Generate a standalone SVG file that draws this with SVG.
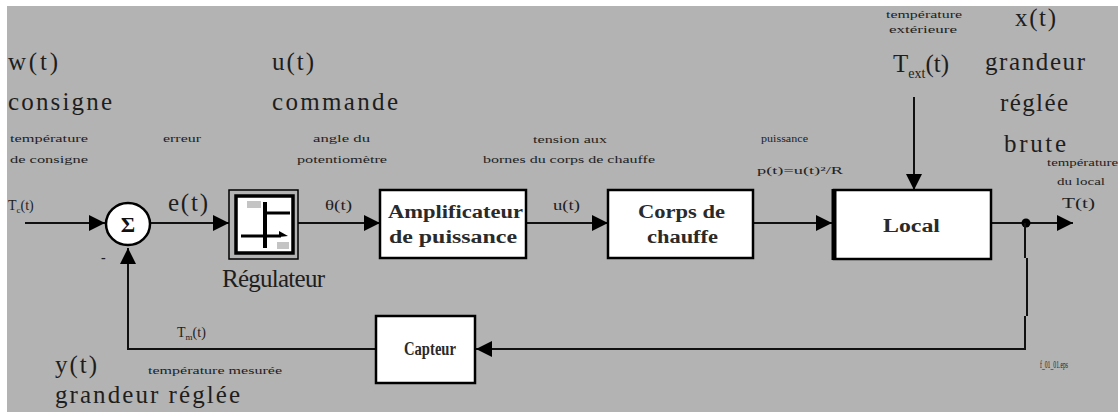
<svg xmlns="http://www.w3.org/2000/svg" width="1118" height="412" viewBox="0 0 1118 412">
  <style>
    .big { font-family: "Liberation Serif", "Times New Roman", serif; font-size: 25px; fill: #1e1e1e; }
    .mid { font-family: "Liberation Serif", "Times New Roman", serif; font-size: 14px; fill: #1e1e1e; }
    .sm { font-family: "Liberation Serif", "Times New Roman", serif; font-size: 11px; fill: #222; }
    .blk { font-family: "Liberation Serif", "Times New Roman", serif; font-size: 18px; font-weight: bold; fill: #2a2a2a; }
    .box { fill: #ffffff; stroke: #000; stroke-width: 2.5; }
    .wire { fill: none; stroke: #111; stroke-width: 2; }
  </style>
  <defs>
    <marker id="arr" viewBox="0 0 10 10" refX="10" refY="5" markerWidth="16" markerHeight="16" markerUnits="userSpaceOnUse" orient="auto">
      <path d="M0,0 L10,5 L0,10 Z" fill="#000"/>
    </marker>
  </defs>

  <!-- page -->
  <rect x="0" y="0" width="1118" height="412" fill="#ffffff"/>
  <rect x="7" y="6" width="1111" height="406" fill="#b3b3b3"/>

  <!-- connectors -->
  <g id="connectors">
    <line class="wire" x1="25" y1="223" x2="105" y2="223" marker-end="url(#arr)"/>
    <line class="wire" x1="150" y1="223" x2="229" y2="223" marker-end="url(#arr)"/>
    <line class="wire" x1="298" y1="223" x2="380" y2="223" marker-end="url(#arr)"/>
    <line class="wire" x1="526" y1="223" x2="608" y2="223" marker-end="url(#arr)"/>
    <line class="wire" x1="753" y1="223" x2="832" y2="223" marker-end="url(#arr)"/>
    <line class="wire" x1="914" y1="97" x2="914" y2="190" marker-end="url(#arr)"/>
    <line class="wire" x1="991" y1="223" x2="1073" y2="223" marker-end="url(#arr)"/>
    <circle cx="1026" cy="223" r="4.5" fill="#000"/>
    <path class="wire" d="M1025,223 V258 M1027,258 V316 M1025,316 V349" stroke-width="3"/>
    <line class="wire" x1="1026" y1="349" x2="476" y2="349" marker-end="url(#arr)"/>
    <path class="wire" d="M376,349 H128 V248" marker-end="url(#arr)"/>
  </g>

  <!-- summing junction -->
  <g id="sum">
    <ellipse cx="128" cy="224" rx="22" ry="21" fill="#fff" stroke="#000" stroke-width="2.5"/>
    <text x="128" y="232" text-anchor="middle" font-family="Liberation Serif, serif" font-size="22" font-weight="bold" fill="#111">Σ</text>
    <text x="101" y="262" class="mid" font-weight="bold">-</text>
  </g>

  <!-- controller -->
  <g id="regulateur">
    <rect x="229" y="190" width="69" height="69" fill="#b3b3b3" stroke="#000" stroke-width="1.5"/>
    <rect x="236" y="196" width="57" height="57" fill="#fff" stroke="#000" stroke-width="3.5"/>
    <line x1="265" y1="202" x2="265" y2="248" stroke="#000" stroke-width="4"/>
    <line x1="265" y1="213" x2="290" y2="213" stroke="#000" stroke-width="3"/>
    <line x1="241" y1="236" x2="281" y2="236" stroke="#000" stroke-width="3"/>
    <path d="M279,231 L288,236 L279,237 Z" fill="#000"/>
    <rect x="247" y="201" width="14" height="7" fill="#c4c4c4"/>
    <rect x="277" y="242" width="12" height="7" fill="#c4c4c4"/>
    <text x="222" y="287" class="big" font-size="23" textLength="103" lengthAdjust="spacing">Régulateur</text>
  </g>

  <g id="amplificateur">
    <rect class="box" x="380" y="190" width="146" height="68"/>
    <text x="388" y="218" class="blk" textLength="135" lengthAdjust="spacingAndGlyphs">Amplificateur</text>
    <text x="389" y="243" class="blk" textLength="128" lengthAdjust="spacingAndGlyphs">de puissance</text>
  </g>

  <g id="corps">
    <rect class="box" x="608" y="190" width="145" height="68"/>
    <text x="638" y="218" class="blk" textLength="87" lengthAdjust="spacingAndGlyphs">Corps de</text>
    <text x="647" y="243" class="blk" textLength="71" lengthAdjust="spacingAndGlyphs">chauffe</text>
  </g>

  <g id="local">
    <rect class="box" x="834" y="190" width="157" height="69"/>
    <line x1="834" y1="189" x2="834" y2="260" stroke="#000" stroke-width="5"/>
    <text x="883" y="232" class="blk" textLength="57" lengthAdjust="spacingAndGlyphs">Local</text>
  </g>

  <g id="capteur">
    <rect class="box" x="376" y="316" width="99" height="67"/>
    <text x="404" y="355" class="blk" textLength="52" lengthAdjust="spacingAndGlyphs">Capteur</text>
  </g>

  <!-- signal names -->
  <g id="labels">
    <text x="8" y="70" class="big" textLength="50" lengthAdjust="spacing">w(t)</text>
    <text x="8" y="110" class="big" textLength="104" lengthAdjust="spacing">consigne</text>
    <text x="10" y="142" class="sm" textLength="78" lengthAdjust="spacingAndGlyphs">température</text>
    <text x="10" y="163" class="sm" textLength="78" lengthAdjust="spacingAndGlyphs">de consigne</text>
    <text x="163" y="142" class="sm" textLength="38" lengthAdjust="spacingAndGlyphs">erreur</text>

    <text x="272" y="70" class="big" textLength="42" lengthAdjust="spacing">u(t)</text>
    <text x="272" y="110" class="big" textLength="126" lengthAdjust="spacing">commande</text>
    <text x="313" y="142" class="sm" textLength="57" lengthAdjust="spacingAndGlyphs">angle du</text>
    <text x="297" y="163" class="sm" textLength="90" lengthAdjust="spacingAndGlyphs">potentiomètre</text>

    <text x="533" y="143" class="sm" textLength="74" lengthAdjust="spacingAndGlyphs">tension aux</text>
    <text x="483" y="163" class="sm" textLength="172" lengthAdjust="spacingAndGlyphs">bornes du corps de chauffe</text>

    <text x="761" y="142" class="sm" textLength="47" lengthAdjust="spacingAndGlyphs">puissance</text>
    <text x="757" y="174" class="sm" font-size="13" textLength="86" lengthAdjust="spacingAndGlyphs">p(t)=u(t)²/R</text>

    <text x="886" y="18" class="sm" font-size="10" textLength="76" lengthAdjust="spacingAndGlyphs">température</text>
    <text x="889" y="33" class="sm" font-size="10" textLength="68" lengthAdjust="spacingAndGlyphs">extérieure</text>
    <text x="893" y="72" class="big">T<tspan font-size="14" dy="6">ext</tspan><tspan dy="-6">(t)</tspan></text>

    <text x="1015" y="26" class="big" textLength="41" lengthAdjust="spacing">x(t)</text>
    <text x="985" y="70" class="big" textLength="100" lengthAdjust="spacing">grandeur</text>
    <text x="1000" y="111" class="big" textLength="68" lengthAdjust="spacing">réglée</text>
    <text x="1004" y="152" class="big" textLength="62" lengthAdjust="spacing">brute</text>

    <text x="1047" y="166" class="sm" font-size="10" textLength="71" lengthAdjust="spacingAndGlyphs">température</text>
    <text x="1057" y="185" class="sm" textLength="48" lengthAdjust="spacingAndGlyphs">du local</text>
    <text x="1062" y="208" class="mid" textLength="33" lengthAdjust="spacingAndGlyphs">T(t)</text>

    <text x="8" y="210" class="mid" font-size="13">T<tspan font-size="9" dy="3">c</tspan><tspan dy="-3">(t)</tspan></text>
    <text x="168" y="211" class="big" textLength="40" lengthAdjust="spacing">e(t)</text>
    <text x="325" y="210" class="mid" font-size="13" textLength="27" lengthAdjust="spacingAndGlyphs">θ(t)</text>
    <text x="553" y="210" class="mid" font-size="13" textLength="27" lengthAdjust="spacingAndGlyphs">u(t)</text>

    <text x="177" y="337" class="mid" font-size="13">T<tspan font-size="9" dy="3">m</tspan><tspan dy="-3">(t)</tspan></text>
    <text x="148" y="374" class="sm" font-size="10" textLength="134" lengthAdjust="spacingAndGlyphs">température mesurée</text>
    <text x="55" y="373" class="big" textLength="42" lengthAdjust="spacing">y(t)</text>
    <text x="55" y="403" class="big" textLength="185" lengthAdjust="spacing">grandeur réglée</text>

    <text x="1040" y="368" class="sm" font-size="6" textLength="28" lengthAdjust="spacingAndGlyphs">f_01_01.eps</text>
  </g>
</svg>
